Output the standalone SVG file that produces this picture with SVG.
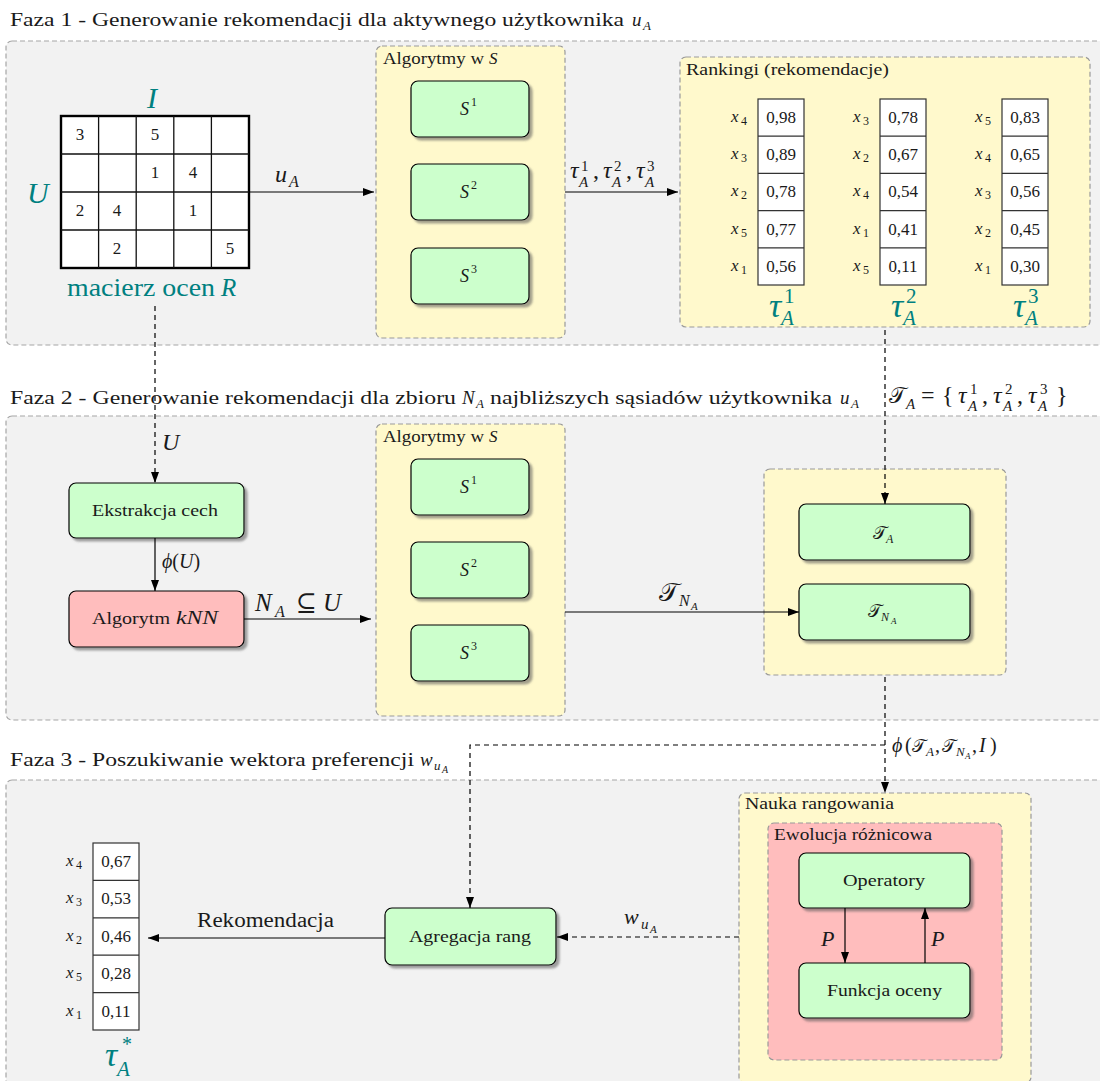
<svg xmlns="http://www.w3.org/2000/svg" width="1100" height="1081" viewBox="0 0 1100 1081" font-family="Liberation Serif, serif">
<defs>
  <marker id="ah" viewBox="0 0 11 8" refX="11" refY="4" markerWidth="11" markerHeight="8" markerUnits="userSpaceOnUse" orient="auto">
    <path d="M0,0 L11,4 L0,8 z" fill="#000"/>
  </marker>
  <filter id="sh" x="-10%" y="-10%" width="130%" height="140%">
    <feDropShadow dx="3" dy="3" stdDeviation="1" flood-color="#555" flood-opacity="0.55"/>
  </filter>
</defs>
<style>
  .panel{fill:#f2f2f2;stroke:#a6a6a6;stroke-width:1.2;stroke-dasharray:5 3}
  .grp{fill:#fff9cc;stroke:#999;stroke-width:1.2;stroke-dasharray:5 3}
  .grpr{fill:#ffbdbd;stroke:#999;stroke-width:1.2;stroke-dasharray:5 3}
  .node{stroke:#000;stroke-width:1.2;filter:url(#sh)}
  .g{fill:#ccffcc}
  .r{fill:#ffbdbd}
  .cell{fill:#fff;stroke:#333;stroke-width:1.2}
  text{font-family:"Liberation Serif","DejaVu Serif",serif;fill:#1a1a1a}
  .i{font-style:italic}
  .cal{font-family:"DejaVu Serif","Liberation Serif",serif;font-style:normal}
  .teal{fill:#008080}
  .mid{text-anchor:middle}
  .c{stroke:#000;stroke-width:1.2;fill:none}
  .d{stroke-dasharray:5 4}
</style>

<!-- phase panels -->
<g id="phase1">
  <rect class="panel" x="6" y="41" width="1120" height="304" rx="6"/>
  <text x="10" y="26" font-size="19" textLength="614" lengthAdjust="spacingAndGlyphs">Faza 1 - Generowanie rekomendacji dla aktywnego użytkownika</text>
  <text class="i" x="632" y="26" font-size="19">u</text><text class="i" x="643" y="30" font-size="13">A</text>
</g>
<g id="phase2">
  <rect class="panel" x="6" y="416" width="1120" height="304" rx="6"/>
  <text x="10" y="404" font-size="19" textLength="446" lengthAdjust="spacingAndGlyphs">Faza 2 - Generowanie rekomendacji dla zbioru</text>
  <text class="i" x="462" y="404" font-size="19">N</text><text class="i" x="476" y="408" font-size="13">A</text>
  <text x="490" y="404" font-size="19" textLength="342" lengthAdjust="spacingAndGlyphs">najbliższych sąsiadów użytkownika</text>
  <text class="i" x="840" y="404" font-size="19">u</text><text class="i" x="851" y="408" font-size="13">A</text>
</g>
<g id="phase3">
  <rect class="panel" x="6" y="780" width="1120" height="340" rx="6"/>
  <text x="10" y="766" font-size="19" textLength="404" lengthAdjust="spacingAndGlyphs">Faza 3 - Poszukiwanie wektora preferencji</text>
  <text class="i" x="420" y="766" font-size="19">w</text><text class="i" x="434" y="770" font-size="13">u</text><text class="i" x="442" y="773" font-size="10">A</text>
</g>

<!-- rating matrix R -->
<g id="matrix">
  <rect x="61" y="116" width="188" height="152" fill="#fff" stroke="#000" stroke-width="2.4"/>
  <path d="M98.6,116V268M136.2,116V268M173.8,116V268M211.4,116V268M61,154H249M61,192H249M61,230H249" stroke="#111" stroke-width="1.3"/>
  <g font-size="17" class="mid">
    <text x="80" y="140">3</text><text x="155" y="140">5</text>
    <text x="155" y="178">1</text><text x="193" y="178">4</text>
    <text x="80" y="216">2</text><text x="117" y="216">4</text><text x="193" y="216">1</text>
    <text x="117" y="254">2</text><text x="230" y="254">5</text>
  </g>
  <text class="i teal" x="147" y="108" font-size="30">I</text>
  <text class="i teal" x="27" y="203" font-size="30">U</text>
  <text class="teal" x="67" y="296" font-size="25" textLength="148" lengthAdjust="spacingAndGlyphs">macierz ocen</text>
  <text class="i teal" x="221" y="296" font-size="25">R</text>
</g>

<!-- algorithms S, phase 1 -->
<g id="algs1">
  <rect class="grp" x="376" y="46" width="189" height="292" rx="6"/>
  <text x="383" y="64" font-size="17" textLength="101" lengthAdjust="spacingAndGlyphs">Algorytmy w</text><text class="i" x="489" y="64" font-size="17">S</text>
</g>
<g id="s1a"><rect class="node g" x="411" y="81" width="118" height="56" rx="7"/><text class="i" x="460" y="115" font-size="18">S</text><text x="471" y="106" font-size="12">1</text></g>
<g id="s2a"><rect class="node g" x="411" y="164" width="118" height="56" rx="7"/><text class="i" x="460" y="198" font-size="18">S</text><text x="471" y="189" font-size="12">2</text></g>
<g id="s3a"><rect class="node g" x="411" y="248" width="118" height="56" rx="7"/><text class="i" x="460" y="282" font-size="18">S</text><text x="471" y="273" font-size="12">3</text></g>

<!-- rankings -->
<g id="rankings">
  <rect class="grp" x="680" y="57" width="410" height="270" rx="6"/>
  <text x="686" y="75" font-size="17" textLength="203" lengthAdjust="spacingAndGlyphs">Rankingi (rekomendacje)</text>
</g>
<g id="rank1">
  <rect class="cell" x="758" y="99" width="46" height="186"/>
  <path d="M758,136.2H804M758,173.4H804M758,210.6H804M758,247.8H804" stroke="#333" stroke-width="1.2"/>
  <g font-size="17" class="mid"><text x="781" y="123">0,98</text><text x="781" y="160">0,89</text><text x="781" y="197">0,78</text><text x="781" y="235">0,77</text><text x="781" y="272">0,56</text></g>
  <g font-size="17" class="i"><text x="731" y="122">x</text><text x="731" y="159">x</text><text x="731" y="196">x</text><text x="731" y="234">x</text><text x="731" y="271">x</text></g>
  <g font-size="12"><text x="741" y="125">4</text><text x="741" y="162">3</text><text x="741" y="199">2</text><text x="741" y="237">5</text><text x="741" y="274">1</text></g>
  <text class="i teal" x="769" y="317" font-size="34">τ</text><text class="teal" x="784" y="303" font-size="21">1</text><text class="i teal" x="781" y="325" font-size="21">A</text>
</g>
<g id="rank2">
  <rect class="cell" x="880" y="99" width="46" height="186"/>
  <path d="M880,136.2H926M880,173.4H926M880,210.6H926M880,247.8H926" stroke="#333" stroke-width="1.2"/>
  <g font-size="17" class="mid"><text x="903" y="123">0,78</text><text x="903" y="160">0,67</text><text x="903" y="197">0,54</text><text x="903" y="235">0,41</text><text x="903" y="272">0,11</text></g>
  <g font-size="17" class="i"><text x="853" y="122">x</text><text x="853" y="159">x</text><text x="853" y="196">x</text><text x="853" y="234">x</text><text x="853" y="271">x</text></g>
  <g font-size="12"><text x="863" y="125">3</text><text x="863" y="162">2</text><text x="863" y="199">4</text><text x="863" y="237">1</text><text x="863" y="274">5</text></g>
  <text class="i teal" x="891" y="317" font-size="34">τ</text><text class="teal" x="906" y="303" font-size="21">2</text><text class="i teal" x="903" y="325" font-size="21">A</text>
</g>
<g id="rank3">
  <rect class="cell" x="1002" y="99" width="46" height="186"/>
  <path d="M1002,136.2H1048M1002,173.4H1048M1002,210.6H1048M1002,247.8H1048" stroke="#333" stroke-width="1.2"/>
  <g font-size="17" class="mid"><text x="1025" y="123">0,83</text><text x="1025" y="160">0,65</text><text x="1025" y="197">0,56</text><text x="1025" y="235">0,45</text><text x="1025" y="272">0,30</text></g>
  <g font-size="17" class="i"><text x="975" y="122">x</text><text x="975" y="159">x</text><text x="975" y="196">x</text><text x="975" y="234">x</text><text x="975" y="271">x</text></g>
  <g font-size="12"><text x="985" y="125">5</text><text x="985" y="162">4</text><text x="985" y="199">3</text><text x="985" y="237">2</text><text x="985" y="274">1</text></g>
  <text class="i teal" x="1013" y="317" font-size="34">τ</text><text class="teal" x="1028" y="303" font-size="21">3</text><text class="i teal" x="1025" y="325" font-size="21">A</text>
</g>

<!-- phase 2 nodes -->
<g id="features"><rect class="node g" x="69" y="483" width="175" height="55" rx="7"/><text x="92" y="516" font-size="17" textLength="126" lengthAdjust="spacingAndGlyphs">Ekstrakcja cech</text></g>
<g id="knn"><rect class="node r" x="69" y="591" width="175" height="56" rx="7"/><text x="92" y="624" font-size="17" textLength="78" lengthAdjust="spacingAndGlyphs">Algorytm</text><text class="i" x="176" y="624" font-size="19" textLength="42" lengthAdjust="spacingAndGlyphs">kNN</text></g>
<g id="algs2">
  <rect class="grp" x="376" y="424" width="189" height="292" rx="6"/>
  <text x="383" y="442" font-size="17" textLength="101" lengthAdjust="spacingAndGlyphs">Algorytmy w</text><text class="i" x="489" y="442" font-size="17">S</text>
</g>
<g id="s1b"><rect class="node g" x="411" y="459" width="118" height="56" rx="7"/><text class="i" x="460" y="493" font-size="18">S</text><text x="471" y="484" font-size="12">1</text></g>
<g id="s2b"><rect class="node g" x="411" y="542" width="118" height="56" rx="7"/><text class="i" x="460" y="576" font-size="18">S</text><text x="471" y="567" font-size="12">2</text></g>
<g id="s3b"><rect class="node g" x="411" y="625" width="118" height="56" rx="7"/><text class="i" x="460" y="659" font-size="18">S</text><text x="471" y="650" font-size="12">3</text></g>
<g id="rankset">
  <rect class="grp" x="764" y="469" width="242" height="206" rx="6"/>
</g>
<g id="tauA"><rect class="node g" x="799" y="504" width="171" height="56" rx="7"/><text class="cal" x="873" y="539" font-size="18">𝒯</text><text class="i" x="886" y="543" font-size="12">A</text></g>
<g id="tauN"><rect class="node g" x="799" y="584" width="171" height="56" rx="7"/><text class="cal" x="868" y="617" font-size="18">𝒯</text><text class="i" x="881" y="621" font-size="12">N</text><text class="i" x="891" y="624" font-size="9">A</text></g>

<!-- phase 3 nodes -->
<g id="learning"><rect class="grp" x="739" y="793" width="292" height="290" rx="6"/><text x="745" y="809" font-size="17" textLength="149" lengthAdjust="spacingAndGlyphs">Nauka rangowania</text></g>
<g id="de"><rect class="grpr" x="768" y="823" width="234" height="237" rx="6"/><text x="774" y="840" font-size="17" textLength="158" lengthAdjust="spacingAndGlyphs">Ewolucja różnicowa</text></g>
<g id="operators"><rect class="node g" x="799" y="853" width="171" height="55" rx="7"/><text x="843" y="886" font-size="17" textLength="82" lengthAdjust="spacingAndGlyphs">Operatory</text></g>
<g id="fitness"><rect class="node g" x="799" y="963" width="171" height="55" rx="7"/><text x="827" y="996" font-size="17" textLength="115" lengthAdjust="spacingAndGlyphs">Funkcja oceny</text></g>
<g id="aggregation"><rect class="node g" x="385" y="908" width="171" height="57" rx="7"/><text x="409" y="942" font-size="17" textLength="122" lengthAdjust="spacingAndGlyphs">Agregacja rang</text></g>
<g id="final">
  <rect class="cell" x="93" y="843" width="46" height="187"/>
  <path d="M93,880.4H139M93,917.8H139M93,955.2H139M93,992.6H139" stroke="#333" stroke-width="1.2"/>
  <g font-size="17" class="mid"><text x="116" y="867">0,67</text><text x="116" y="904">0,53</text><text x="116" y="942">0,46</text><text x="116" y="979">0,28</text><text x="116" y="1017">0,11</text></g>
  <g font-size="17" class="i"><text x="66" y="866">x</text><text x="66" y="903">x</text><text x="66" y="941">x</text><text x="66" y="978">x</text><text x="66" y="1016">x</text></g>
  <g font-size="12"><text x="76" y="869">4</text><text x="76" y="906">3</text><text x="76" y="944">2</text><text x="76" y="981">5</text><text x="76" y="1019">1</text></g>
  <text class="i teal" x="105" y="1066" font-size="34">τ</text><text class="teal" x="122" y="1051" font-size="20">*</text><text class="i teal" x="117" y="1076" font-size="21">A</text>
</g>

<!-- connectors -->
<g id="connectors">
  <path class="c" d="M249,192H374" marker-end="url(#ah)"/>
  <text class="i" x="275" y="182" font-size="24">u</text><text class="i" x="289" y="187" font-size="16">A</text>

  <path class="c" d="M565,192H678" marker-end="url(#ah)"/>
  <g font-size="24">
    <text class="i" x="570" y="178">τ</text><text x="581" y="171" font-size="15">1</text><text class="i" x="579" y="187" font-size="15">A</text><text x="593" y="178">,</text>
    <text class="i" x="603" y="178">τ</text><text x="614" y="171" font-size="15">2</text><text class="i" x="612" y="187" font-size="15">A</text><text x="626" y="178">,</text>
    <text class="i" x="636" y="178">τ</text><text x="647" y="171" font-size="15">3</text><text class="i" x="645" y="187" font-size="15">A</text>
  </g>

  <path class="c d" d="M155,306V483" marker-end="url(#ah)"/>
  <text class="i" x="162" y="450" font-size="24">U</text>

  <path class="c" d="M155,538V591" marker-end="url(#ah)"/>
  <text x="162" y="568" font-size="20"><tspan class="i">ϕ</tspan>(<tspan class="i">U</tspan>)</text>

  <path class="c" d="M244,619H371" marker-end="url(#ah)"/>
  <text class="i" x="255" y="611" font-size="25">N</text><text class="i" x="275" y="617" font-size="16">A</text>
  <text x="296" y="611" font-size="25">⊆</text><text class="i" x="323" y="611" font-size="25">U</text>

  <path class="c" d="M565,612H799" marker-end="url(#ah)"/>
  <text class="cal" x="659" y="601" font-size="26">𝒯</text><text class="i" x="679" y="606" font-size="16">N</text><text class="i" x="691" y="610" font-size="11">A</text>

  <path class="c d" d="M885,330V504" marker-end="url(#ah)"/>
  <g font-size="24">
    <text class="cal" x="889" y="403" font-size="22">𝒯</text><text class="i" x="906" y="409" font-size="15">A</text>
    <text x="921" y="403">=</text>
    <text x="942" y="403">{</text>
    <text class="i" x="958" y="403">τ</text><text x="970" y="394" font-size="15">1</text><text class="i" x="968" y="411" font-size="15">A</text><text x="982" y="403">,</text>
    <text class="i" x="993" y="403">τ</text><text x="1005" y="394" font-size="15">2</text><text class="i" x="1003" y="411" font-size="15">A</text><text x="1017" y="403">,</text>
    <text class="i" x="1028" y="403">τ</text><text x="1040" y="394" font-size="15">3</text><text class="i" x="1038" y="411" font-size="15">A</text>
    <text x="1056" y="403">}</text>
  </g>

  <path class="c d" d="M885,677V793" marker-end="url(#ah)"/>
  <path class="c d" d="M885,745H470V908" marker-end="url(#ah)"/>
  <g font-size="20">
    <text class="i" x="892" y="752">ϕ</text><text x="905" y="752">(</text>
    <text class="cal" x="912" y="752" font-size="18">𝒯</text><text class="i" x="926" y="756" font-size="13">A</text><text x="935" y="752">,</text>
    <text class="cal" x="942" y="752" font-size="18">𝒯</text><text class="i" x="956" y="756" font-size="13">N</text><text class="i" x="965" y="759" font-size="9">A</text><text x="972" y="752">,</text>
    <text class="i" x="979" y="752">I</text><text x="990" y="752">)</text>
  </g>

  <path class="c d" d="M739,937H557" marker-end="url(#ah)"/>
  <text class="i" x="624" y="924" font-size="22">w</text><text class="i" x="641" y="929" font-size="15">u</text><text class="i" x="650" y="933" font-size="11">A</text>

  <path class="c" d="M385,938H148" marker-end="url(#ah)"/>
  <text x="197" y="927" font-size="20" textLength="137" lengthAdjust="spacingAndGlyphs">Rekomendacja</text>

  <path class="c" d="M845,908V963" marker-end="url(#ah)"/>
  <text class="i" x="821" y="946" font-size="22">P</text>
  <path class="c" d="M925,963V908" marker-end="url(#ah)"/>
  <text class="i" x="931" y="946" font-size="22">P</text>
</g>
</svg>
